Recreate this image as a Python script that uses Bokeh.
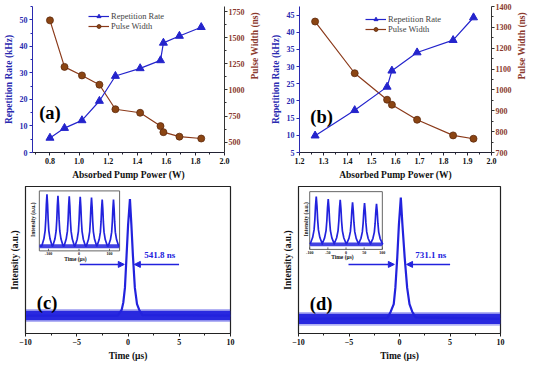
import math
from bokeh.plotting import figure
from bokeh.layouts import column, row
from bokeh.models import (Range1d, LinearAxis, FixedTicker, Legend, LegendItem,
                          Arrow, NormalHead)
from bokeh.core.properties import value
from bokeh.embed import file_html
from bokeh.resources import INLINE

FONT = "Liberation Serif"
BLUE = "#2424cc"
TRACE = "#2222dd"
AXBLUE = "#2a2ab0"
BROWN_LINE = "#8b3a1a"
BROWN_FILL = "#8b4513"
BROWN_EDGE = "#5e2a0c"
BROWN_TEXT = "#8b3a2e"

# ---------------- data: panel (a) ----------------
a_power = [0.80, 0.90, 1.02, 1.14, 1.25, 1.42, 1.56, 1.58, 1.69, 1.84]
a_rate = [5.5, 9.2, 12.1, 19.4, 28.8, 31.7, 34.7, 41.3, 43.9, 47.2]
a_width = [1667, 1221, 1139, 1050, 815, 781, 653, 595, 552, 534]

# ---------------- data: panel (b) ----------------
b_power = [1.265, 1.43, 1.565, 1.585, 1.69, 1.84, 1.925]
b_rate = [9.9, 17.3, 24.1, 28.8, 34.1, 37.7, 44.3]
b_width = [1328, 1080, 953, 929, 857, 782, 766]

# ---------------- ticks ----------------
a_x_ticks = [0.8, 1.0, 1.2, 1.4, 1.6, 1.8, 2.0]
a_x_minor = [0.7, 0.9, 1.1, 1.3, 1.5, 1.7, 1.9]
a_x_labels = ["0.8", "1.0", "1.2", "1.4", "1.6", "1.8", "2.0"]
a_rate_ticks = [0, 10, 20, 30, 40, 50]
a_rate_minor = [5, 15, 25, 35, 45, 55]
a_width_ticks = [500, 750, 1000, 1250, 1500, 1750]
a_width_minor = [625, 875, 1125, 1375, 1625]
b_x_ticks = [1.2, 1.3, 1.4, 1.5, 1.6, 1.7, 1.8, 1.9, 2.0]
b_x_minor = [1.25, 1.35, 1.45, 1.55, 1.65, 1.75, 1.85, 1.95]
b_x_labels = ["1.2", "1.3", "1.4", "1.5", "1.6", "1.7", "1.8", "1.9", "2.0"]
b_rate_ticks = [5, 10, 15, 20, 25, 30, 35, 40, 45]
b_rate_minor = []
b_width_ticks = [700, 800, 900, 1000, 1100, 1200, 1300, 1400]
b_width_minor = [750, 850, 950, 1050, 1150, 1250, 1350]
t_ticks = [-10, -5, 0, 5, 10]
t_minor = [-7.5, -2.5, 2.5, 7.5]

# ---------------- data: panel (c) single pulse ----------------
c_pulse_t = [-10.0, -1.0, -0.62, -0.46, -0.30, -0.14, 0.01, 0.19, 0.33, 0.48, 0.67, 0.88, 1.10, 1.40, 10.0]
c_pulse_i = [0.122, 0.122, 0.16, 0.21, 0.31, 0.53, 0.74, 0.915, 0.74, 0.53, 0.31, 0.20, 0.16, 0.125, 0.122]
c_band_t = [-10.0, 10.0]
c_band_lo = [0.09, 0.09]
c_band_hi = [0.155, 0.155]
c_fwhm = "541.8 ns"

# ---------------- data: panel (d) single pulse ----------------
d_pulse_t = [-10.0, -1.2, -0.86, -0.57, -0.41, -0.22, -0.06, 0.13, 0.29, 0.51, 0.76, 0.99, 1.25, 1.60, 10.0]
d_pulse_i = [0.10, 0.105, 0.15, 0.20, 0.31, 0.52, 0.74, 0.925, 0.74, 0.52, 0.31, 0.20, 0.15, 0.11, 0.10]
d_band_t = [-10.0, 10.0]
d_band_lo = [0.065, 0.065]
d_band_hi = [0.135, 0.135]
d_fwhm = "731.1 ns"

# ---------------- inset pulse trains ----------------
ins_prof_dx = [-17, -10, -6, -3.8, -2.0, 0, 2.0, 3.8, 6, 10, 17]
ins_prof_f = [0.0, 0.14, 0.3, 0.52, 0.8, 1.0, 0.8, 0.52, 0.3, 0.14, 0.0]
c_ins_peaks = [-105, -69, -32, 4, 41, 76, 113]
c_ins_heights = [0.945, 0.92, 0.91, 0.90, 0.89, 0.855, 0.855]
c_ins_base = 0.08
c_ins_ticks = [-100, 0, 100]
d_ins_peaks = [-82, -49, -16, 18, 51, 84]
d_ins_heights = [0.916, 0.87, 0.86, 0.815, 0.80, 0.79]
d_ins_base = 0.09
d_ins_ticks = [-100, -50, 0, 50, 100]


def style_axis(ax, label, text_color, label_color, line_color, ticks, minor, labels=None):
    ax.axis_label = label
    ax.axis_label_text_font = FONT
    ax.axis_label_text_font_style = "bold"
    ax.axis_label_text_font_size = "9.5px"
    ax.axis_label_text_color = label_color
    ax.major_label_text_font = FONT
    ax.major_label_text_font_style = "bold"
    ax.major_label_text_font_size = "8px"
    ax.major_label_text_color = text_color
    ax.axis_line_color = line_color
    ax.major_tick_line_color = line_color
    ax.minor_tick_line_color = line_color
    ax.major_tick_in = 0
    ax.major_tick_out = 3
    ax.minor_tick_in = 0
    ax.minor_tick_out = 2
    ax.major_label_standoff = 2
    ax.axis_label_standoff = 3
    ax.ticker = FixedTicker(ticks=ticks, minor_ticks=minor)
    if labels is not None:
        ax.major_label_overrides = {t: s for t, s in zip(ticks, labels)}


def power_panel(power, rate, width, xr, yr, yr2, borders, xt, xm, xl, rt, rm, wt, wm, leg_loc, tag, tag_xy):
    p = figure(width=267, height=182, x_range=Range1d(*xr), y_range=Range1d(*yr),
               output_backend="svg", toolbar_location=None,
               min_border_left=borders[0], min_border_right=borders[1],
               min_border_top=borders[2], min_border_bottom=borders[3])
    p.border_fill_color = "white"
    p.extra_y_ranges = {"pw": Range1d(*yr2)}
    p.grid.visible = False
    p.outline_line_color = None
    p.background_fill_color = "white"
    style_axis(p.xaxis[0], "Absorbed Pump Power (W)", "#111111", "#111111", "#222233", xt, xm, xl)
    style_axis(p.yaxis[0], "Repetition Rate (kHz)", AXBLUE, AXBLUE, AXBLUE, rt, rm)
    rax = LinearAxis(y_range_name="pw")
    style_axis(rax, "Pulse Width (ns)", BROWN_TEXT, BROWN_TEXT, "#333333", wt, wm)
    rax.major_label_standoff = 1
    rax.axis_label_standoff = 7
    rax.axis_label_orientation = math.pi / 2
    p.add_layout(rax, "right")

    l2 = p.line(power, width, y_range_name="pw", line_color=BROWN_LINE, line_width=1.2)
    s2 = p.scatter(power, width, y_range_name="pw", marker="circle", size=7,
                   fill_color=BROWN_FILL, line_color=BROWN_EDGE, line_width=0.8)
    l1 = p.line(power, rate, line_color=BLUE, line_width=1.2)
    s1 = p.scatter(power, rate, marker="triangle", size=8, fill_color=BLUE, line_color=BLUE)

    leg = Legend(items=[LegendItem(label="Repetition Rate", renderers=[l1, s1]),
                        LegendItem(label="Pulse Width", renderers=[l2, s2])],
                 location=leg_loc, orientation="vertical",
                 background_fill_alpha=0, border_line_color=None,
                 label_text_font=FONT, label_text_font_size="8.5px",
                 glyph_width=21, glyph_height=10, label_height=10,
                 padding=0, spacing=0, margin=0, label_standoff=2)
    p.add_layout(leg)
    p.text(x=[tag_xy[0]], y=[tag_xy[1]], text=[tag], text_font=value(FONT),
           text_font_style="bold", text_font_size="18.5px", text_color="black",
           text_align="center", text_baseline="middle")
    return p


pa = power_panel(a_power, a_rate, a_width, (0.68, 2.0), (0, 55), (400, 1800),
                 (28, 40, 6, 29), a_x_ticks, a_x_minor, a_x_labels,
                 a_rate_ticks, a_rate_minor, a_width_ticks, a_width_minor,
                 (56, 121), "(a)", (0.80, 14.7))
pb = power_panel(b_power, b_rate, b_width, (1.2, 2.0), (5, 47.5), (700, 1400),
                 (31, 39, 6, 29), b_x_ticks, b_x_minor, b_x_labels,
                 b_rate_ticks, b_rate_minor, b_width_ticks, b_width_minor,
                 (66, 118), "(b)", (1.292, 15.4))


def pulse_panel(pt, pi, bt, blo, bhi, borders, h, arrows, fwhm, fwhm_xy, tag, tag_xy,
                ins_x, ins_target_x, ins_target_y, peaks, heights, base, ins_ticks,
                ins_time_y, ins_int_x):
    p = figure(width=267, height=h, x_range=Range1d(-10, 10), y_range=Range1d(0, 1),
               output_backend="svg", toolbar_location=None,
               min_border_left=borders[0], min_border_right=borders[1],
               min_border_top=borders[2], min_border_bottom=borders[3])
    p.border_fill_color = "white"
    p.grid.visible = False
    p.outline_line_color = "#222222"
    p.outline_line_width = 1.2
    style_axis(p.xaxis[0], "Time (\u03bcs)", "#111111", "#111111", "#222222", t_ticks, t_minor)
    yax = p.yaxis[0]
    style_axis(yax, "Intensity (a.u.)", "#111111", "#111111", "#222222", [], [])
    yax.major_tick_out = 0
    yax.minor_tick_out = 0
    yax.major_label_standoff = 0
    yax.axis_label_standoff = 6

    p.varea(x=bt, y1=[v - 0.012 for v in blo], y2=[v + 0.012 for v in bhi],
            fill_color=TRACE, fill_alpha=0.35)
    p.varea(x=bt, y1=blo, y2=bhi, fill_color=TRACE, fill_alpha=0.95)
    p.line(pt, pi, line_color=TRACE, line_width=2.2)

    for (x0, x1, yy) in arrows:
        p.add_layout(Arrow(x_start=x0, y_start=yy, x_end=x1, y_end=yy,
                           line_color=TRACE, line_width=1.5,
                           end=NormalHead(size=6, fill_color=TRACE, line_color=TRACE)))
    p.text(x=[fwhm_xy[0]], y=[fwhm_xy[1]], text=[fwhm], text_font=value(FONT),
           text_font_style="bold", text_font_size="9px", text_color=TRACE,
           text_align="center", text_baseline="middle")
    p.text(x=[tag_xy[0]], y=[tag_xy[1]], text=[tag], text_font=value(FONT),
           text_font_style="bold", text_font_size="18.5px", text_color="black",
           text_align="center", text_baseline="middle")

    ins = p.subplot(x_source=Range1d(*ins_x), y_source=Range1d(0, 1),
                    x_target=Range1d(*ins_target_x), y_target=Range1d(*ins_target_y))
    ins.quad(left=[ins_x[0]], right=[ins_x[1]], bottom=[0], top=[1],
             fill_color="white", line_color="#666666", line_width=1)
    xs, ys = [ins_x[0] + 1], [base]
    for c, hgt in zip(peaks, heights):
        for dx, f in zip(ins_prof_dx, ins_prof_f):
            xs.append(c + dx)
            ys.append(base + f * (hgt - base))
    xs.append(ins_x[1] - 1)
    ys.append(base)
    ins.varea(x=[ins_x[0] + 1, ins_x[1] - 1], y1=[base - 0.035] * 2, y2=[base + 0.03] * 2,
              fill_color=TRACE, fill_alpha=0.85)
    ins.line(xs, ys, line_color=TRACE, line_width=1.7)
    ins.segment(x0=ins_ticks, y0=[0] * len(ins_ticks), x1=ins_ticks, y1=[0.035] * len(ins_ticks),
                line_color="#444444", line_width=0.8)
    ins.text(x=ins_ticks, y=[-0.025] * len(ins_ticks), text=[str(t) for t in ins_ticks],
             text_font=value(FONT), text_font_style="bold", text_font_size="4px",
             text_color="#111111", text_align="center", text_baseline="top")
    ins.text(x=[(ins_x[0] + ins_x[1]) / 2 - 0.05 * (ins_x[1] - ins_x[0])], y=[ins_time_y],
             text=["Time (\u03bcs)"], text_font=value(FONT), text_font_style="bold",
             text_font_size="5.5px", text_color="#111111", text_align="center",
             text_baseline="middle")
    ins.text(x=[ins_int_x], y=[0.52], text=["Intensity (a.u.)"], angle=math.pi / 2,
             text_font=value(FONT), text_font_style="bold", text_font_size="5.5px",
             text_color="#111111", text_align="center", text_baseline="middle")
    return p


pc = pulse_panel(c_pulse_t, c_pulse_i, c_band_t, c_band_lo, c_band_hi, (25, 37, 3, 30), 181,
                 [(-4.7, -0.36, 0.47), (4.98, 0.62, 0.47)], c_fwhm, (3.1, 0.535), "(c)", (-7.9, 0.21),
                 (-130, 133), (-8.65, -0.82), (0.562, 0.97), c_ins_peaks, c_ins_heights, c_ins_base,
                 c_ins_ticks, -0.14, -150)
pd_ = pulse_panel(d_pulse_t, d_pulse_i, d_band_t, d_band_lo, d_band_hi, (31, 34, 4, 30), 181,
                  [(-5.05, -0.51, 0.47), (5.01, 0.70, 0.47)], d_fwhm, (3.1, 0.535), "(d)", (-7.77, 0.20),
                  (-100, 100), (-8.89, -1.70), (0.572, 0.965), d_ins_peaks, d_ins_heights, d_ins_base,
                  d_ins_ticks, -0.135, -111)

layout = column(row(pa, pb), row(pc, pd_))
open("out.html", "w").write(file_html(layout, INLINE))
